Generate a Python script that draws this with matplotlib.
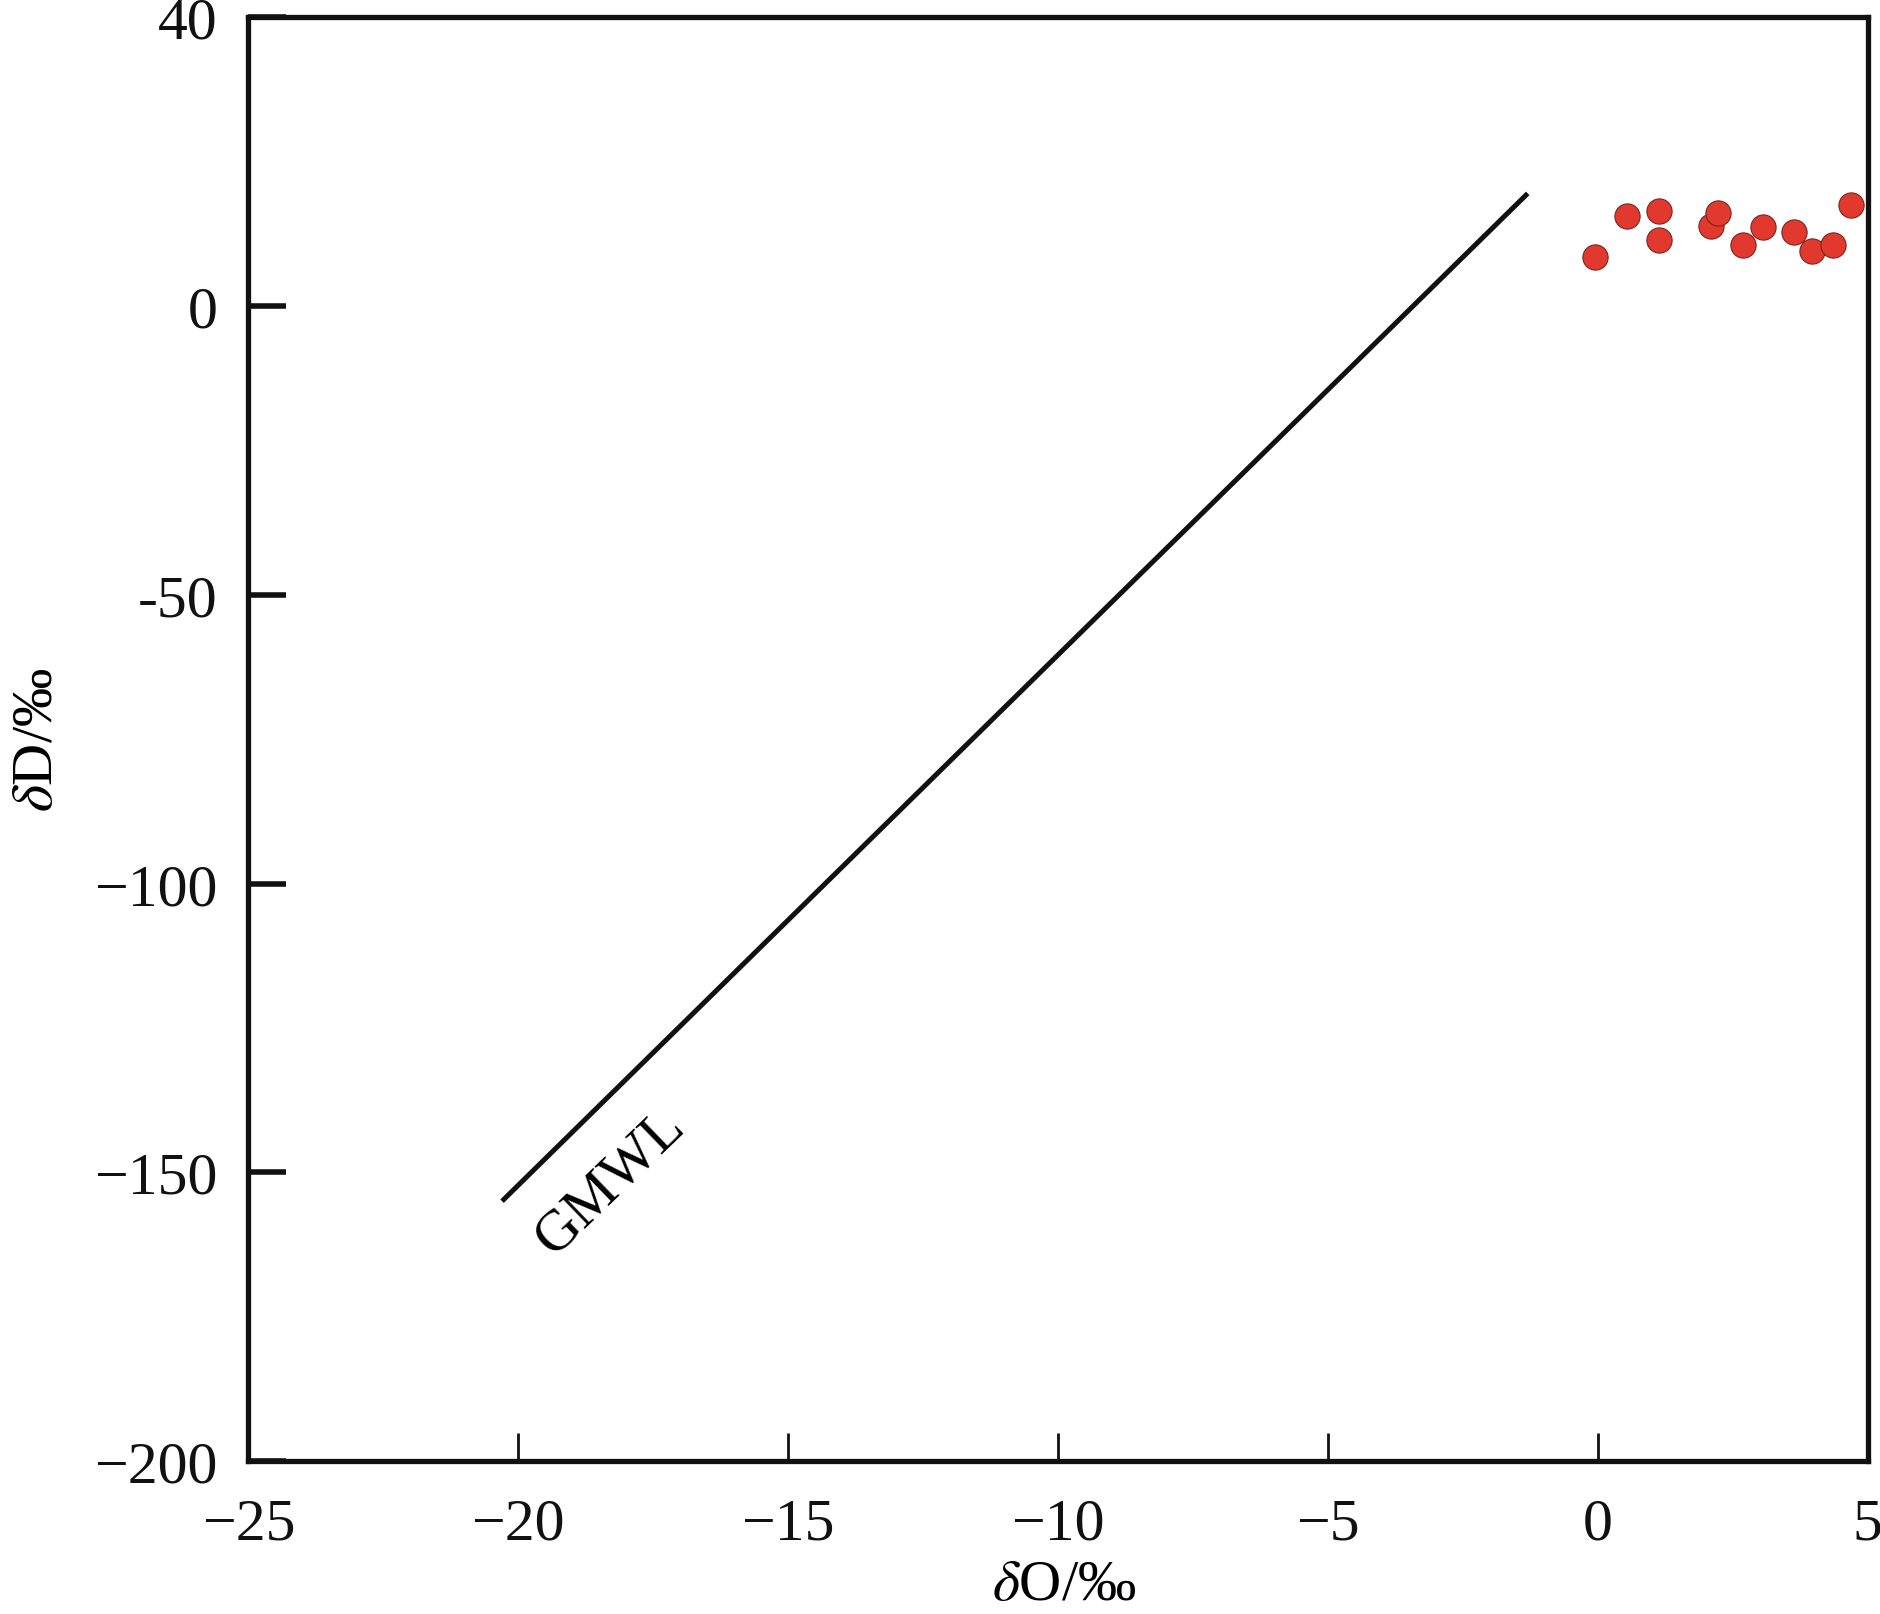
import matplotlib.pyplot as plt

plt.rcParams['font.family'] = ['Liberation Serif', 'DejaVu Serif']
plt.rcParams['mathtext.fontset'] = 'stix'

# sample points (delta 18O, delta D)
d18O = [-0.05, 0.54, 1.13, 1.13, 2.09, 2.22, 2.69, 3.05, 3.64, 3.96, 4.35, 4.69]
dD = [8.4, 15.5, 16.5, 11.4, 13.9, 16.1, 10.6, 13.7, 12.8, 9.6, 10.6, 17.5]

# GMWL as drawn in the figure
gmwl_x = [-20.3, -1.3]
gmwl_y = [-155, 19.5]

xticks = [-25, -20, -15, -10, -5, 0, 5]
xticklabels = ['\u221225', '\u221220', '\u221215', '\u221210', '\u22125', '0', '5']
yticks = [-200, -150, -100, -50, 0, 50]
yticklabels = ['\u2212200', '\u2212150', '\u2212100', '-50', '0', '40']

fig = plt.figure(figsize=(18.81, 16.15), dpi=100)
ax = fig.add_axes([0.132, 0.0947, 0.861, 0.894])

ax.plot(gmwl_x, gmwl_y, color='#111111', lw=3.6, solid_capstyle='butt')
ax.scatter(d18O, dD, s=330, color='#e2392f', edgecolors='#7a2520', linewidths=0.8, zorder=3)

ax.text(-18.3, -151.5, 'GMWL', fontsize=42, rotation=44, rotation_mode='anchor',
        ha='center', va='center')

ax.set_xlim(-25, 5)
ax.set_ylim(-200, 50)
ax.set_xticks(xticks)
ax.set_xticklabels(xticklabels)
ax.set_yticks(yticks)
ax.set_yticklabels(yticklabels)

for s in ax.spines.values():
    s.set_linewidth(3.8)
    s.set_color('#111111')

ax.tick_params(axis='x', direction='in', length=20, width=2, pad=26, labelsize=43, colors='#111111')
ax.tick_params(axis='y', direction='in', length=27, width=4, pad=22, labelsize=43, colors='#111111')

ax.set_xlabel(r'$\delta$O/' + '\u2030', fontsize=42)
ax.set_ylabel(r'$\delta$D/' + '\u2030', fontsize=42)
ax.xaxis.set_label_coords(0.504, -0.068)
ax.yaxis.set_label_coords(-0.114, 0.5)

fig.savefig('out.png', dpi=100)
